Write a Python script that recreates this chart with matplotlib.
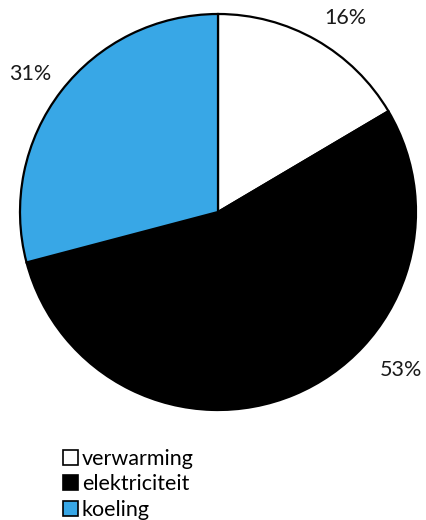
import numpy as np
import matplotlib.pyplot as plt
from matplotlib.patches import Patch

plt.rcParams['font.family'] = ['Lato', 'DejaVu Sans']

categories = ["verwarming", "elektriciteit", "koeling"]
# slice sizes as drawn in the picture, and the percentages as printed
slice_sizes = [16.5, 54.4, 29.1]
label_values = [16, 53, 31]
colors = ["#ffffff", "#000000", "#38a7e6"]

fig = plt.figure(figsize=(4.26, 5.2), dpi=100)
cx, cy, r = 218, 212, 198
ax = fig.add_axes([(cx - r) / 426, (520 - cy - r) / 520, 2 * r / 426, 2 * r / 520])

ax.pie(slice_sizes, colors=colors, startangle=90, counterclock=False, radius=1,
       wedgeprops=dict(edgecolor="black", linewidth=1.6))
ax.set_xlim(-1, 1)
ax.set_ylim(-1, 1)
ax.set_aspect("equal")

# label positions (data coords of the pie)
label_pos = [(0.645, 0.98), (0.925, -0.80), (-0.95, 0.695)]
for v, (x, y) in zip(label_values, label_pos):
    ax.text(x, y, f"{v}%", ha="center", va="center", fontsize=15.5, color="#1a1a1a")

handles = [Patch(facecolor=c, edgecolor="black", linewidth=1.2) for c in colors]
fig.legend(handles, categories, loc="upper left", bbox_to_anchor=(63 / 426, 1 - 449 / 520),
           frameon=False, fontsize=15.5, handlelength=0.68, handleheight=0.68,
           handletextpad=0.2, labelspacing=0.25, borderpad=0, borderaxespad=0)

fig.savefig("out.png", dpi=100)
